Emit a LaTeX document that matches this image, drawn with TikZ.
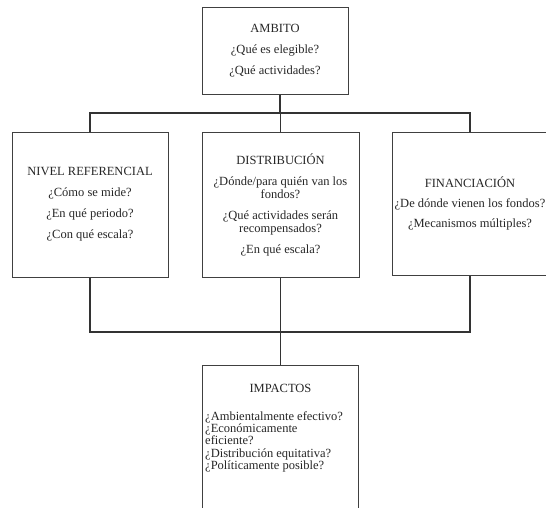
\documentclass[tikz,border=0pt]{standalone}
\usepackage{fontspec}
\setmainfont{Liberation Serif}
\begin{document}
\begin{tikzpicture}[x=1pt,y=-1pt,
  box/.style={draw=black!75, line width=1pt, align=center, inner sep=0pt,
    text=black!85, font=\fontsize{12.5}{13}\selectfont},
  txt/.style={inner sep=0pt, text=black!85, font=\fontsize{12.5}{12.2}\selectfont},
  link/.style={draw=black!80, line width=1.2pt}]
\clip (0,0) rectangle (546,507);
\fill[white] (0,0) rectangle (546,507);

% question boxes
\node[box, minimum width=146pt, minimum height=87pt] (amb) at (275,50.5)
  {AMBITO\\[8pt]¿Qué es elegible?\\[8pt]¿Qué actividades?};
\node[box, minimum width=156pt, minimum height=145pt] (niv) at (90,204.5)
  {NIVEL REFERENCIAL\\[8pt]¿Cómo se mide?\\[8pt]¿En qué periodo?\\[8pt]¿Con qué escala?};
\node[box, minimum width=157pt, minimum height=145pt] (dist) at (280.5,204.5)
  {DISTRIBUCIÓN\\[8pt]¿Dónde/para quién van los\\fondos?\\[8pt]¿Qué actividades serán\\recompensados?\\[8pt]¿En qué escala?};
\node[box, minimum width=156pt, minimum height=143pt] (fin) at (470,203.5)
  {FINANCIACIÓN\\[7pt]¿De dónde vienen los fondos?\\[7pt]¿Mecanismos múltiples?};

% impacts box, running off the bottom edge
\node[box, minimum width=156pt, minimum height=160pt] (imp) at (280.5,445) {};
\node[txt, anchor=base] (impt) at (280.5,392) {IMPACTOS};
\node[txt, anchor=north west, align=left] (impq) at (205,411.5)
  {¿Ambientalmente efectivo?\\¿Económicamente\\eficiente?\\¿Distribución equitativa?\\¿Políticamente posible?};

% connectors
\coordinate (top) at (280,113);
\coordinate (bot) at (280,332);
\draw[link] (amb.south -| top) -- (top);
\draw[link] (niv.north) |- (top) -| (fin.north);
\draw[link] (dist.north) -- (dist.north |- top);
\draw[link] (niv.south) |- (bot) -| (fin.south);
\draw[link] (dist.south) -- (imp.north);
\end{tikzpicture}
\end{document}
